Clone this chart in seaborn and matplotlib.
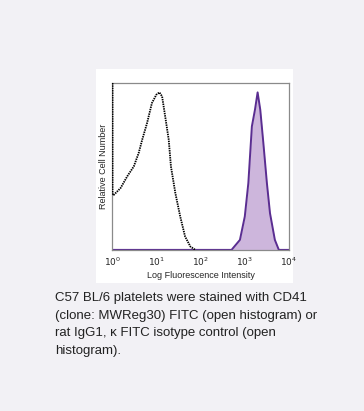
import numpy as np
import pandas as pd
import seaborn as sns
import matplotlib.pyplot as plt
from matplotlib.patches import Rectangle

# open histogram (black dotted) - log10 intensity vs relative count
open_log = [0.01, 0.01, 0.04, 0.19, 0.34, 0.49, 0.60, 0.68, 0.79, 0.90, 1.00, 1.07,
            1.13, 1.20, 1.28, 1.33, 1.43, 1.54, 1.65, 1.77, 1.88]
open_cnt = [1.0, 0.33, 0.33, 0.37, 0.44, 0.50, 0.58, 0.66, 0.76, 0.88, 0.93, 0.944,
            0.92, 0.80, 0.66, 0.50, 0.34, 0.20, 0.08, 0.02, 0.0]

# filled histogram (purple)
fill_log = [0.0, 2.70, 2.89, 3.00, 3.08, 3.16, 3.23, 3.29, 3.35, 3.42, 3.50, 3.57, 3.68, 3.77, 4.0]
fill_cnt = [0.0, 0.0, 0.06, 0.20, 0.40, 0.74, 0.84, 0.944, 0.84, 0.64, 0.40, 0.22, 0.06, 0.0, 0.0]

tick_exp = [0, 1, 2, 3, 4]

caption = ["C57 BL/6 platelets were stained with CD41",
           "(clone: MWReg30) FITC (open histogram) or",
           "rat IgG1, \u03ba FITC isotype control (open",
           "histogram)."]

open_df = pd.DataFrame({"x": np.power(10.0, open_log), "y": open_cnt})
fill_df = pd.DataFrame({"x": np.power(10.0, fill_log), "y": fill_cnt})

sns.set_style("white")
plt.rcParams['font.family'] = ['Liberation Sans', 'DejaVu Sans']

fig = plt.figure(figsize=(3.64, 4.11), dpi=100)
fig.patch.set_facecolor("#f2f1f5")
fig.patches.append(Rectangle((0.264, 0.311), 0.541, 0.521, transform=fig.transFigure,
                             facecolor="white", edgecolor="none", zorder=-5))

ax = fig.add_axes([0.308, 0.392, 0.486, 0.406])
ax.set_xscale("log")
ax.fill_between(fill_df["x"], fill_df["y"], color="#cdb6dc", linewidth=0)
sns.lineplot(data=fill_df, x="x", y="y", ax=ax, color="#5a2d91", linewidth=1.4,
             sort=False, estimator=None)
sns.lineplot(data=open_df, x="x", y="y", ax=ax, color="black", linewidth=1.3,
             linestyle=(0, (0.8, 0.5)), sort=False, estimator=None, zorder=5)

ax.set_xlim(1, 1e4)
ax.set_ylim(0, 1.0)
ax.set_xticks([10.0 ** e for e in tick_exp])
ax.set_xticklabels([f"$10^{{{e}}}$" for e in tick_exp], fontsize=6.5)
ax.minorticks_off()
ax.set_yticks([])
ax.tick_params(axis="x", length=0, pad=4)
ax.set_xlabel("Log Fluorescence Intensity", fontsize=6.5, labelpad=2)
ax.set_ylabel("Relative Cell Number", fontsize=6.5, labelpad=3)
for s in ax.spines.values():
    s.set_color("#8a8a8a")
    s.set_linewidth(0.9)

for i, line in enumerate(caption):
    fig.text(0.151, 1 - (298 + 17.5 * i) / 411, line, fontsize=9.5, color="#222222",
             va="center", ha="left")

fig.savefig("out.png", dpi=100, facecolor=fig.get_facecolor())
